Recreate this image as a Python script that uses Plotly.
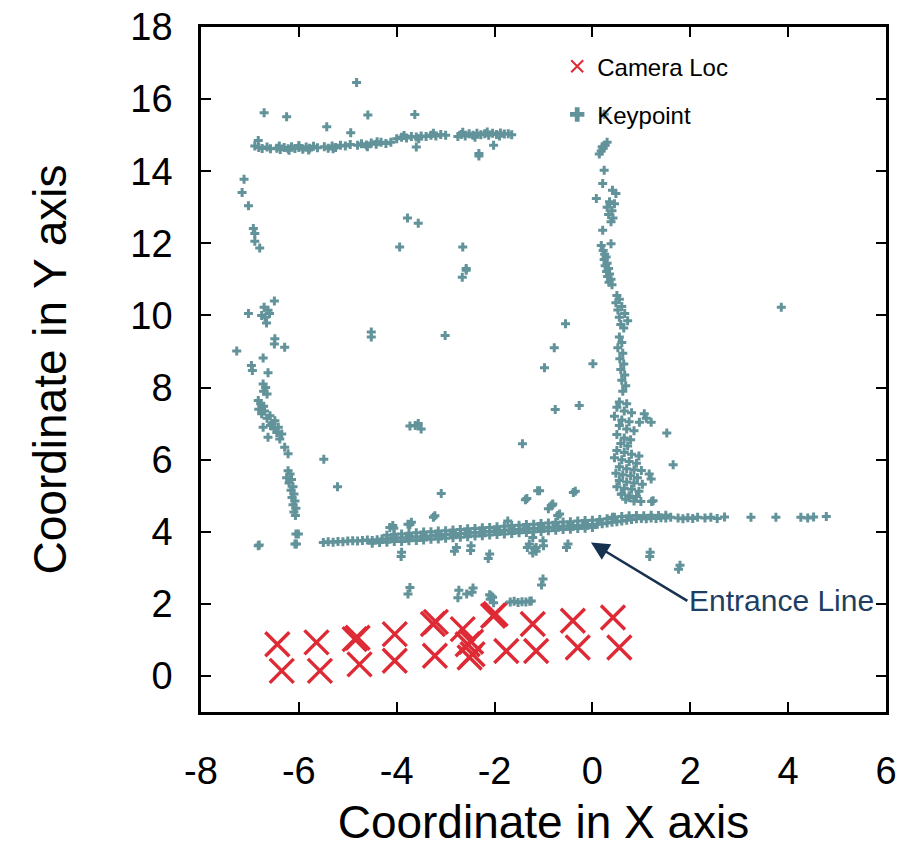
import plotly.graph_objects as go

# ---------------- data ----------------
camera_x = [-6.44, -6.35, -5.64, -5.57, -4.86, -4.80, -4.76, -4.04, -4.04,
            -3.26, -3.20, -3.22, -2.65, -2.55, -2.48, -2.51, -2.45, -2.03,
            -1.98, -1.76, -1.22, -1.15, -0.40, -0.30, 0.42, 0.55]
camera_y = [0.88, 0.14, 0.93, 0.14, 1.02, 1.06, 0.32, 1.16, 0.42,
            1.44, 1.50, 0.56, 1.30, 0.88, 0.95, 0.51, 0.60, 1.67,
            1.72, 0.69, 1.44, 0.69, 1.53, 0.79, 1.62, 0.79]

top_wall = [
    (-6.90, 14.70), (-6.82, 14.66), (-6.75, 14.63), (-6.65, 14.67), (-6.58, 14.62),
    (-6.45, 14.64), (-6.38, 14.60), (-6.30, 14.66), (-6.22, 14.62), (-6.15, 14.68),
    (-6.08, 14.63), (-6.00, 14.66), (-5.92, 14.61), (-5.85, 14.67), (-5.78, 14.64),
    (-5.70, 14.69), (-5.62, 14.65), (-5.48, 14.68), (-5.40, 14.64), (-5.32, 14.70),
    (-5.25, 14.66), (-5.15, 14.72), (-5.05, 14.70), (-4.95, 14.74), (-4.80, 14.72),
    (-4.72, 14.76), (-4.62, 14.73), (-4.52, 14.78), (-4.42, 14.75), (-4.32, 14.80),
    (-4.22, 14.77), (-4.12, 14.80), (-4.00, 14.90), (-3.90, 14.94), (-3.80, 14.92),
    (-3.70, 14.96), (-3.60, 14.95), (-3.50, 14.98), (-3.40, 14.96), (-3.30, 15.00),
    (-3.20, 14.98), (-3.10, 15.02), (-3.00, 15.00), (-2.75, 14.96), (-2.68, 15.02),
    (-2.60, 14.98), (-2.52, 15.04), (-2.44, 15.00), (-2.36, 15.05), (-2.28, 15.01),
    (-2.20, 15.04), (-2.12, 15.00), (-2.04, 15.05), (-1.96, 15.02), (-1.88, 15.06),
    (-1.80, 15.03), (-1.72, 15.04), (-1.65, 15.01),
    (-6.40, 14.70), (-6.20, 14.58), (-6.00, 14.71), (-5.80, 14.59), (-5.30, 14.62),
    (-4.60, 14.68), (-4.40, 14.82), (-3.85, 14.99), (-3.55, 14.90), (-3.25, 15.05),
    (-2.65, 15.08), (-2.40, 14.94), (-2.15, 15.09), (-1.90, 14.98),
    (-6.71, 15.62), (-6.25, 15.51), (-5.43, 15.23), (-4.59, 15.56), (-3.63, 15.57),
    (-4.82, 16.46), (-4.94, 15.07), (-3.60, 14.67), (-2.32, 14.49), (-2.32, 14.42),
    (-2.02, 14.72), (-6.83, 14.85),
]

left_wall = [
    (-7.12, 13.78), (-7.16, 13.41), (-7.03, 13.04), (-6.93, 12.41), (-6.90, 12.27),
    (-6.90, 12.06), (-6.80, 11.87),
    (-6.50, 10.40), (-6.71, 10.23), (-6.63, 10.14), (-6.76, 10.00), (-6.69, 9.95),
    (-6.66, 9.79), (-6.60, 10.05), (-7.03, 10.05),
    (-6.49, 9.35), (-6.50, 9.21), (-6.29, 9.12), (-7.27, 9.01), (-6.73, 8.82),
    (-6.97, 8.61), (-6.95, 8.47), (-6.63, 8.41),
    (-6.73, 8.10), (-6.68, 8.00), (-6.72, 7.90), (-6.65, 7.82), (-6.83, 7.64),
    (-6.78, 7.55), (-6.72, 7.48), (-6.82, 7.40), (-6.70, 7.35), (-6.76, 7.27),
    (-6.59, 7.22), (-6.65, 7.15), (-6.49, 7.08), (-6.55, 7.00), (-6.42, 6.90),
    (-6.50, 6.85), (-6.35, 6.71), (-6.45, 6.75), (-6.39, 6.57), (-6.63, 6.62),
    (-6.73, 6.90), (-6.58, 6.95), (-6.29, 6.34), (-6.22, 6.16),
    (-6.22, 5.69), (-6.18, 5.60), (-6.25, 5.50), (-6.15, 5.45), (-6.20, 5.35),
    (-6.12, 5.25), (-6.16, 5.15), (-6.10, 5.05), (-6.14, 4.95), (-6.08, 4.85),
    (-6.12, 4.75), (-6.06, 4.65), (-6.10, 4.55), (-6.07, 4.45),
    (-6.01, 3.94), (-6.08, 3.66), (-6.83, 3.61), (-6.81, 3.63),
]

right_wall = [
    (0.30, 14.80), (0.26, 14.72), (0.22, 14.64), (0.18, 14.56), (0.14, 14.48),
    (0.20, 14.68), (0.24, 14.03), (0.21, 13.66), (0.41, 13.47), (0.48, 13.38),
    (0.08, 13.24), (0.35, 13.15), (0.45, 13.10), (0.30, 13.00), (0.40, 12.90),
    (0.33, 12.80), (0.42, 12.70), (0.38, 12.60), (0.21, 12.36), (0.38, 11.99),
    (0.18, 11.94), (0.22, 11.80), (0.25, 11.70), (0.28, 11.62), (0.24, 11.55),
    (0.30, 11.45), (0.26, 11.38), (0.33, 11.30), (0.29, 11.22), (0.35, 11.15),
    (0.31, 11.08), (0.38, 11.00), (0.34, 10.92), (0.40, 10.85),
    (0.50, 10.55), (0.55, 10.45), (0.48, 10.35), (0.60, 10.25), (0.52, 10.15),
    (0.66, 10.05), (0.55, 9.95), (0.72, 9.85), (0.58, 9.75), (0.64, 9.65),
    (0.55, 9.40), (0.60, 9.25), (0.52, 9.10), (0.62, 8.95), (0.56, 8.80),
    (0.64, 8.65), (0.58, 8.50), (0.66, 8.35), (0.60, 8.20), (0.68, 8.05),
    (0.62, 7.90),
    (0.55, 7.60), (0.70, 7.55), (0.50, 7.45), (0.65, 7.35), (0.80, 7.30),
    (0.45, 7.20), (0.60, 7.10), (0.75, 7.05), (0.55, 6.95), (0.70, 6.85),
    (0.85, 6.80), (0.50, 6.70), (0.65, 6.60), (0.78, 6.55), (0.58, 6.45),
    (0.72, 6.38),
    (0.50, 6.25), (0.65, 6.20), (0.80, 6.15), (0.95, 6.10), (0.45, 6.05),
    (0.60, 6.00), (0.75, 5.95), (0.90, 5.90), (0.55, 5.80), (0.70, 5.75),
    (0.85, 5.72), (1.00, 5.70), (0.48, 5.62), (0.62, 5.58), (0.78, 5.55),
    (0.92, 5.50), (0.55, 5.42), (0.70, 5.38), (0.85, 5.35), (1.02, 5.32),
    (0.50, 5.25), (0.65, 5.20), (0.80, 5.18), (0.95, 5.12), (0.60, 5.05),
    (0.75, 5.00), (0.90, 4.98), (0.68, 4.90), (0.85, 4.85),
    (0.59, 5.04), (0.75, 4.95), (0.99, 4.84),
]

entrance_line = [
    (-5.50, 3.70), (-5.40, 3.72), (-5.30, 3.71), (-5.20, 3.73), (-5.10, 3.72),
    (-5.00, 3.74), (-4.90, 3.75), (-4.80, 3.74), (-4.70, 3.76), (-4.60, 3.77),
    (-4.50, 3.76), (-4.40, 3.78), (-4.30, 3.80), (-4.20, 3.79), (-4.10, 3.81),
    (-4.00, 3.82), (-3.90, 3.83), (-3.80, 3.82), (-3.70, 3.85), (-3.60, 3.86),
    (-3.50, 3.85), (-3.40, 3.87), (-3.30, 3.88), (-3.20, 3.90), (-3.10, 3.89),
    (-3.00, 3.92), (-2.90, 3.93), (-2.80, 3.92), (-2.70, 3.95), (-2.60, 3.96),
    (-2.50, 3.97), (-2.40, 3.98), (-2.30, 3.97), (-2.20, 4.00), (-2.10, 4.01),
    (-2.00, 4.02), (-1.90, 4.01), (-1.80, 4.04), (-1.70, 4.05), (-1.60, 4.06),
    (-1.50, 4.05), (-1.40, 4.08), (-1.30, 4.09), (-1.20, 4.10), (-1.10, 4.09),
    (-1.00, 4.12), (-0.90, 4.13), (-0.80, 4.12), (-0.70, 4.14), (-0.60, 4.15),
    (-0.50, 4.16), (-0.40, 4.15), (-0.30, 4.17), (-0.20, 4.18), (-0.10, 4.19),
    (0.00, 4.20), (0.10, 4.21), (0.20, 4.22), (0.30, 4.24), (0.40, 4.26),
    (0.50, 4.28), (0.60, 4.30), (0.70, 4.32), (0.80, 4.34), (0.90, 4.36),
    (1.00, 4.37), (1.10, 4.36), (1.20, 4.38), (1.30, 4.37), (1.40, 4.39),
    (1.50, 4.38), (1.60, 4.40),
    (-4.20, 3.90), (-4.05, 3.93), (-3.90, 3.94), (-3.75, 3.96), (-3.60, 3.97),
    (-3.45, 3.99), (-3.30, 4.00), (-3.15, 4.02), (-3.00, 4.03), (-2.85, 4.05),
    (-2.70, 4.06), (-2.55, 4.08), (-2.40, 4.09), (-2.25, 4.11), (-2.10, 4.12),
    (-1.95, 4.14), (-1.80, 4.15), (-1.65, 4.17), (-1.50, 4.18), (-1.35, 4.20),
    (-1.20, 4.21), (-1.05, 4.23), (-0.90, 4.24), (-0.75, 4.26), (-0.60, 4.27),
    (-0.45, 4.28), (-0.30, 4.30), (-0.15, 4.31), (0.00, 4.32), (0.15, 4.34),
    (0.30, 4.36), (0.45, 4.40), (0.60, 4.42), (0.75, 4.44), (0.90, 4.45),
    (1.05, 4.44), (1.20, 4.46), (1.35, 4.45), (1.50, 4.46),
    (-4.50, 3.68), (-4.35, 3.70), (-4.20, 3.71), (-4.05, 3.73), (-3.90, 3.73),
    (-3.75, 3.75), (-3.60, 3.76), (-3.45, 3.77), (-3.30, 3.79), (-3.15, 3.80),
    (-3.00, 3.82), (-2.85, 3.83), (-2.70, 3.85), (-2.55, 3.86), (-2.40, 3.88),
    (-2.25, 3.89), (-2.10, 3.91), (-1.95, 3.92), (-1.80, 3.94), (-1.65, 3.95),
    (-1.50, 3.97), (-1.35, 3.98), (-1.20, 4.00), (-1.05, 4.01), (-0.90, 4.03),
    (-0.75, 4.04), (-0.60, 4.06), (-0.45, 4.07), (-0.30, 4.09), (-0.15, 4.10),
    (0.00, 4.12),
    (1.75, 4.38), (1.85, 4.36), (1.95, 4.39), (2.05, 4.37), (2.15, 4.40),
    (2.30, 4.38), (2.42, 4.40), (2.55, 4.37), (2.70, 4.41), (3.24, 4.40),
    (3.75, 4.40), (4.26, 4.40), (4.40, 4.38), (4.52, 4.41), (4.78, 4.42),
]

scattered = [
    (-3.94, 11.90), (-3.78, 12.70), (-3.56, 12.56), (-2.65, 11.90), (-2.58, 11.30),
    (-2.58, 11.25), (-2.66, 11.06), (-4.52, 9.54), (-4.52, 9.40), (-3.01, 9.44),
    (-3.56, 7.00), (-3.73, 6.93), (-3.50, 6.85), (-3.62, 6.95), (-1.43, 6.44),
    (-5.49, 6.01), (-5.21, 5.25), (-3.09, 5.06), (-1.34, 4.92), (-1.12, 5.14),
    (3.86, 10.23), (-0.55, 9.77), (-0.78, 9.10), (-0.98, 8.55), (0.01, 8.66),
    (-0.76, 7.39), (-0.27, 7.50), (1.06, 7.27), (0.96, 7.04), (1.20, 7.04),
    (1.10, 7.15), (1.52, 6.74), (1.65, 5.86), (1.16, 5.60), (1.20, 5.46),
    (-1.08, 5.14), (-0.35, 5.12), (1.24, 4.86), (-0.84, 4.72), (0.24, 15.58),
    (-1.37, 4.89), (-0.39, 5.09), (-0.82, 4.74), (-0.90, 4.64), (-0.71, 4.45),
    (1.21, 4.84), (-3.25, 4.40), (-4.06, 4.10), (-3.73, 4.20), (-1.73, 4.30),
    (0.41, 4.40), (-3.91, 3.31), (-2.82, 3.46), (-2.49, 3.48), (-2.13, 3.26),
    (-1.33, 3.56), (-1.22, 3.41), (-1.15, 3.46), (-1.00, 3.61), (-0.53, 3.56),
    (1.17, 3.31), (1.76, 2.96), (-1.04, 2.52), (-3.77, 2.27), (-2.75, 2.17),
    (-2.57, 2.27), (-2.46, 2.32), (-2.09, 2.13), (-2.02, 2.03), (-2.07, 2.22),
    (-3.73, 2.45), (-2.73, 2.38), (-2.44, 2.44), (-6.06, 3.94), (-6.05, 3.66),
    (-3.90, 3.43), (-3.22, 4.44), (-4.14, 4.12), (-4.08, 4.17), (-3.77, 4.21),
    (-3.70, 4.26), (-2.78, 3.56), (-2.48, 3.61), (-2.10, 3.38), (-1.29, 3.66),
    (-1.18, 3.52), (-0.81, 4.77), (-0.67, 4.49), (-1.22, 3.84), (-1.15, 3.56),
    (-1.01, 3.75), (-0.50, 3.66), (-1.01, 2.69), (1.18, 3.43), (1.79, 3.07),
    (-1.25, 2.08), (-1.68, 2.05), (-1.60, 2.07), (-1.52, 2.04), (-1.44, 2.06),
    (-1.36, 2.05), (-1.28, 2.07), (-2.10, 2.25), (-2.04, 2.18),
]

x_ticks = [-8, -6, -4, -2, 0, 2, 4, 6]
x_tick_text = ["-8", "-6", "-4", "-2", "0", "2", "4", "6"]
y_ticks = [0, 2, 4, 6, 8, 10, 12, 14, 16, 18]

keypoints = top_wall + left_wall + right_wall + entrance_line + scattered
key_x = [p[0] for p in keypoints]
key_y = [p[1] for p in keypoints]

# ---------------- figure ----------------
KEY_COLOR = "#62939a"
CAM_COLOR = "#dd2a35"
FONT = "Liberation Sans, Arial, sans-serif"

fig = go.Figure()
fig.add_trace(go.Scatter(
    x=camera_x, y=camera_y, mode="markers", name="Camera Loc",
    legendgroup="cam",
    marker=dict(symbol="x-thin", size=24, color=CAM_COLOR,
                line=dict(color=CAM_COLOR, width=3.4)),
))
fig.add_trace(go.Scatter(
    x=key_x, y=key_y, mode="markers", name="Keypoint",
    legendgroup="key",
    marker=dict(symbol="cross", size=7.5, color=KEY_COLOR, line=dict(width=0)),
))

axis_common = dict(
    showgrid=False, zeroline=False, showline=True, linecolor="black",
    linewidth=2.5, mirror="ticks", ticks="inside", ticklen=10, tickwidth=2,
    tickcolor="black", tickfont=dict(family=FONT, size=38, color="black"),
    automargin=False, ticklabeloverflow="allow",
)

fig.update_xaxes(
    range=[-8, 6], tickvals=x_ticks, ticktext=x_tick_text,
    title=dict(text="Coordinate in X axis", font=dict(family=FONT, size=46, color="black"),
               standoff=38),
    ticklabelstandoff=24,
    **axis_common,
)
fig.update_yaxes(
    range=[-1, 18], tickvals=y_ticks,
    title=dict(text="Coordinate in Y axis", font=dict(family=FONT, size=46, color="black"),
               standoff=50),
    ticklabelstandoff=18,
    **axis_common,
)

fig.add_annotation(
    x=-0.03, y=3.70, ax=1.94, ay=2.08, axref="x", ayref="y",
    xref="x", yref="y", text="Entrance Line", showarrow=True,
    xanchor="left", yanchor="middle",
    font=dict(family=FONT, size=30, color="#1d3f63"),
    arrowhead=2, arrowsize=1.4, arrowwidth=2.6, arrowcolor="#17324f",
)

fig.update_layout(
    width=907, height=848,
    margin=dict(l=201, r=21, t=27, b=136),
    paper_bgcolor="white", plot_bgcolor="white",
    font=dict(family=FONT, color="black"),
    legend=dict(
        x=0.52, y=0.975, xanchor="left", yanchor="top",
        bgcolor="rgba(0,0,0,0)", borderwidth=0,
        font=dict(family=FONT, size=24, color="black"),
        tracegroupgap=14, itemsizing="constant",
    ),
)

# remove the default 8px page margin so the figure fills the window exactly
fig.write_html("out.html", config={"displayModeBar": False},
               post_script="document.body.style.margin='0px';")
